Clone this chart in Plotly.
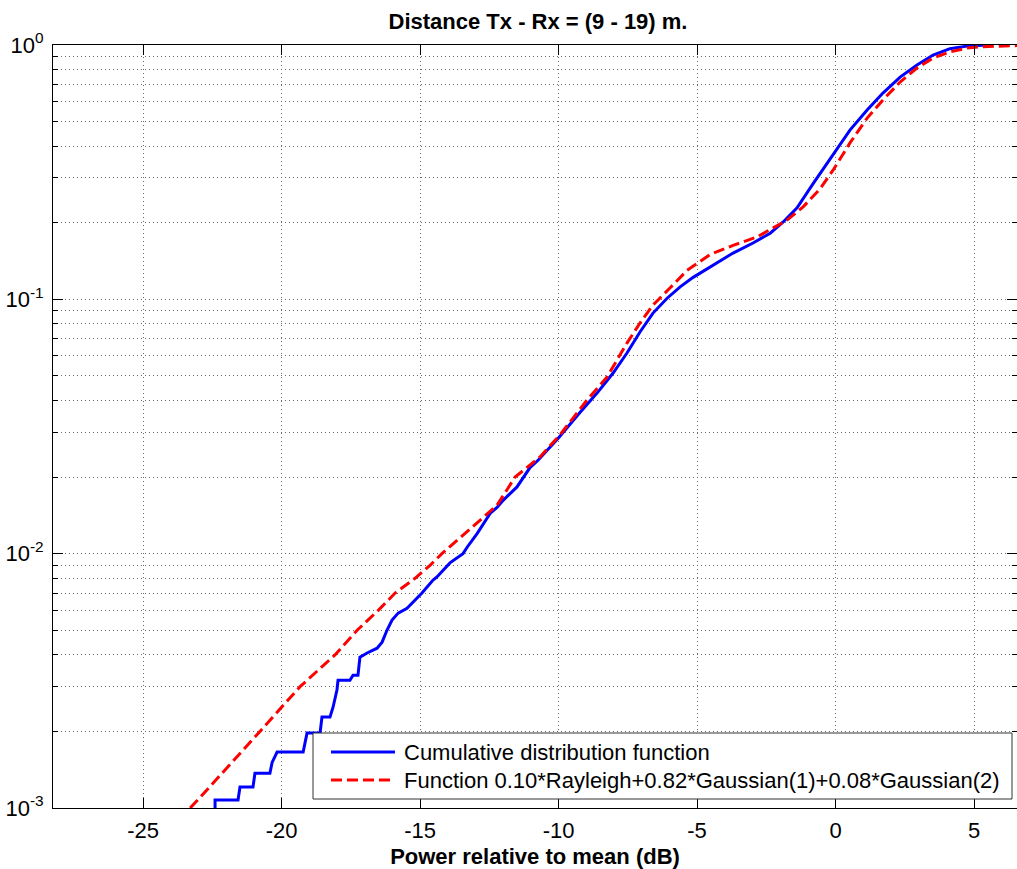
import plotly.graph_objects as go

# Empirical CDF of received power (dB relative to mean)
cdf_x = [-22.40, -22.40, -21.57, -21.50, -21.03, -20.96, -20.42, -20.34, -20.16, -19.22,
         -19.08, -18.61, -18.54, -18.25, -18.14, -18.00, -17.96, -17.53, -17.42, -17.24,
         -17.17, -16.91, -16.55, -16.37, -16.19, -16.01, -15.79, -15.47, -14.93, -14.53,
         -14.39, -13.92, -13.45, -13.30, -12.94, -12.47, -12.22, -12.00, -11.50, -11.03,
         -10.74, -9.98, -9.22, -8.61, -8.03, -7.53, -7.06, -6.59, -6.08, -5.61,
         -5.14, -4.53, -3.70, -2.98, -2.36, -1.90, -1.39, -0.81, -0.40, 0.00,
         0.52, 1.14, 1.71, 2.33, 2.94, 3.52, 4.13, 4.75, 5.30, 5.47]
cdf_y = [1.0e-3, 1.075e-3, 1.075e-3, 1.21e-3, 1.21e-3, 1.37e-3, 1.37e-3, 1.51e-3, 1.66e-3, 1.66e-3,
         1.97e-3, 1.97e-3, 2.28e-3, 2.28e-3, 2.49e-3, 2.91e-3, 3.18e-3, 3.18e-3, 3.33e-3, 3.33e-3,
         3.92e-3, 4.07e-3, 4.25e-3, 4.49e-3, 5.01e-3, 5.48e-3, 5.84e-3, 6.1e-3, 7.0e-3, 7.87e-3,
         8.1e-3, 9.2e-3, 1.0e-2, 1.06e-2, 1.2e-2, 1.44e-2, 1.52e-2, 1.62e-2, 1.83e-2, 2.18e-2,
         2.33e-2, 2.87e-2, 3.6e-2, 4.28e-2, 5.13e-2, 6.15e-2, 7.44e-2, 8.83e-2, 0.101, 0.112,
         0.122, 0.134, 0.152, 0.1665, 0.182, 0.201, 0.229, 0.285, 0.331, 0.383,
         0.463, 0.555, 0.647, 0.748, 0.834, 0.913, 0.967, 0.99, 1.0, 1.0]

# Fitted mixture model
fit_x = [-23.30, -22.94, -20.78, -19.33, -18.07, -17.27, -16.50, -15.90, -15.18, -14.64,
         -14.21, -12.22, -11.57, -10.67, -9.95, -8.97, -8.25, -7.53, -7.06, -6.59,
         -5.97, -5.36, -4.53, -3.70, -2.83, -2.26, -1.75, -1.17, -0.56, -0.09,
         0.52, 1.14, 1.71, 2.33, 2.94, 3.52, 4.13, 4.75, 5.30, 6.60]
fit_y = [1.0e-3, 1.10e-3, 2.0e-3, 3.0e-3, 4.0e-3, 5.0e-3, 6.0e-3, 7.0e-3, 8.0e-3, 9.0e-3,
         1.0e-2, 1.55e-2, 2.0e-2, 2.4e-2, 2.93e-2, 4.02e-2, 4.95e-2, 6.73e-2, 8.07e-2, 9.5e-2,
         0.111, 0.13, 0.15, 0.163, 0.176, 0.191, 0.205, 0.231, 0.272, 0.322,
         0.412, 0.516, 0.608, 0.715, 0.812, 0.889, 0.939, 0.973, 0.985, 0.995]

x_ticks = [-25, -20, -15, -10, -5, 0, 5]
x_tick_text = ["-25", "-20", "-15", "-10", "-5", "0", "5"]
y_ticks = [1e-3, 1e-2, 1e-1, 1.0]
y_tick_text = ["10<sup>-3</sup>", "10<sup>-2</sup>", "10<sup>-1</sup>", "10<sup>0</sup>"]
y_minor = [m * 10.0 ** d for d in (-3, -2, -1) for m in range(2, 10)]

legend_labels = ["Cumulative distribution function",
                 "Function 0.10*Rayleigh+0.82*Gaussian(1)+0.08*Gaussian(2)"]

W, H = 1017, 869
ML, MR, MT, MB = 53, 0, 45, 61
PW, PH = W - ML - MR, H - MT - MB
FONT = "Liberation Sans, Arial, Helvetica, sans-serif"
FS = 22
BLUE, RED = "#0000ff", "#ff0000"
DASH = "11px,5px"
GRID = dict(showgrid=True, gridcolor="#6a6a6a", gridwidth=1, griddash="1px,3px")


def px(x):
    return (x - ML) / PW


def py(y):
    return (MT + PH - y) / PH


fig = go.Figure()
fig.add_trace(go.Scatter(x=cdf_x, y=cdf_y, mode="lines", name=legend_labels[0],
                         line=dict(color=BLUE, width=3), showlegend=False))
fig.add_trace(go.Scatter(x=fit_x, y=fit_y, mode="lines", name=legend_labels[1],
                         line=dict(color=RED, width=3, dash=DASH), showlegend=False))

# Boxed legend in the lower right corner
box = dict(x0=313, x1=1012, y0=733, y1=799)
fig.add_shape(type="rect", xref="paper", yref="paper", layer="above",
              x0=px(box["x0"]), x1=px(box["x1"]), y0=py(box["y1"]), y1=py(box["y0"]),
              fillcolor="white", line=dict(color="#333333", width=1))
rows = [(752, BLUE, "solid"), (780, RED, DASH)]
for (ry, col, dash), label in zip(rows, legend_labels):
    fig.add_shape(type="line", xref="paper", yref="paper", layer="above",
                  x0=px(331), x1=px(395), y0=py(ry), y1=py(ry),
                  line=dict(color=col, width=3, dash=dash))
    fig.add_annotation(xref="paper", yref="paper", x=px(402), y=py(ry),
                       xanchor="left", yanchor="middle", showarrow=False,
                       text=label, font=dict(family=FONT, size=FS, color="black"))

fig.update_layout(
    width=W, height=H,
    margin=dict(l=ML, r=MR, t=MT, b=MB),
    paper_bgcolor="white", plot_bgcolor="white",
    font=dict(family=FONT, size=FS, color="black"),
    title=dict(text="Distance Tx - Rx = (9 - 19) m.", xref="paper", x=px(538),
               xanchor="center", y=1 - 21 / H, yanchor="middle",
               font=dict(family=FONT, size=FS, color="black", weight="bold")),
    showlegend=False,
)
fig.update_xaxes(
    range=[-28.25, 6.55], tickvals=x_ticks, ticktext=x_tick_text, ticks="inside",
    ticklen=10, tickcolor="black", showline=True, linecolor="black", linewidth=1,
    mirror="ticks", zeroline=False, ticklabelstandoff=3,
    title=dict(text="Power relative to mean (dB)", standoff=7,
               font=dict(family=FONT, size=FS, weight="bold")),
    **GRID,
)
fig.update_yaxes(
    type="log", range=[-3, 0], tickvals=y_ticks, ticktext=y_tick_text,
    ticks="inside", ticklen=10, tickcolor="black", showline=True, linecolor="black",
    linewidth=1, mirror="ticks", zeroline=False, ticklabelstandoff=4,
    minor=dict(tickvals=y_minor, ticks="inside", ticklen=5, tickcolor="black",
               showgrid=True, gridcolor="#6a6a6a", gridwidth=1, griddash="1px,3px"),
    **GRID,
)

fig.write_html("out.html")
